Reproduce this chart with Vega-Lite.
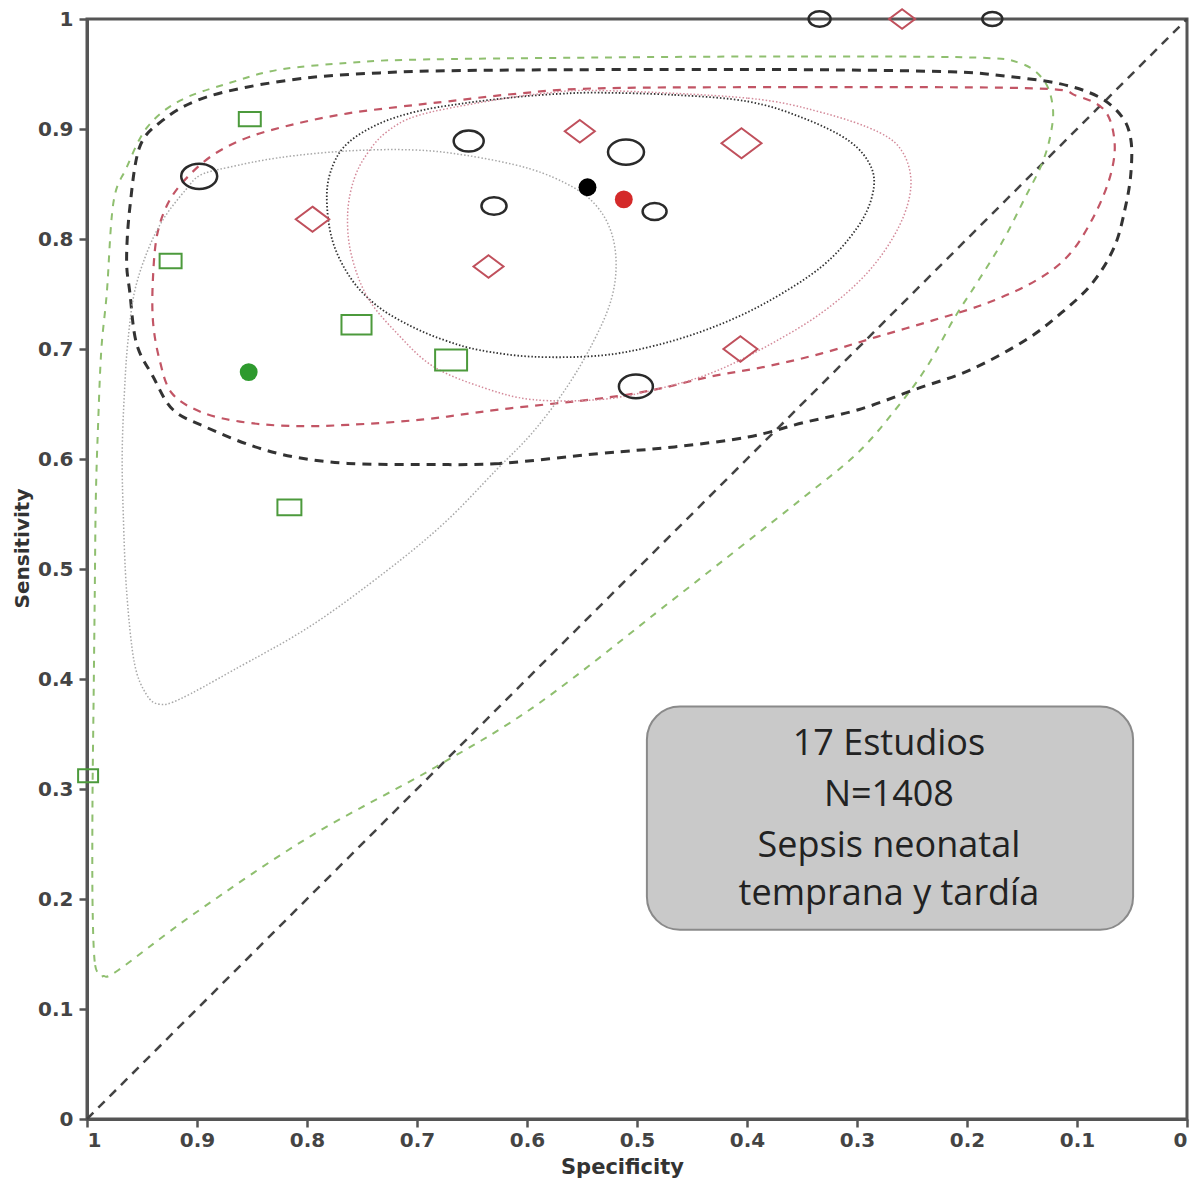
{
  "$schema": "https://vega.github.io/schema/vega-lite/v6.json",
  "width": 1100,
  "height": 1100,
  "autosize": {"type": "none"},
  "padding": {"left": 87, "top": 19, "right": 17, "bottom": 69},
  "background": "white",
  "config": {
    "view": {"stroke": "#555", "strokeWidth": 3},
    "axis": {
      "grid": false,
      "domainColor": "#555",
      "domainWidth": 3,
      "tickColor": "#555",
      "tickWidth": 2.5,
      "tickSize": 8,
      "labelFont": "DejaVu Sans",
      "labelFontWeight": "bold",
      "labelFontSize": 20,
      "labelColor": "#444",
      "titleFont": "DejaVu Sans",
      "titleFontWeight": "bold",
      "titleColor": "#333"
    }
  },
  "datasets": {
    "studies": [
      {"g": "b", "spec": 0.898, "sens": 0.857, "n": 185},
      {"g": "b", "spec": 0.653, "sens": 0.889, "n": 129},
      {"g": "b", "spec": 0.630, "sens": 0.830, "n": 90},
      {"g": "b", "spec": 0.510, "sens": 0.879, "n": 185},
      {"g": "b", "spec": 0.484, "sens": 0.825, "n": 82},
      {"g": "b", "spec": 0.501, "sens": 0.666, "n": 165},
      {"g": "b", "spec": 0.334, "sens": 1.0, "n": 69},
      {"g": "b", "spec": 0.177, "sens": 1.0, "n": 57},
      {"g": "r", "spec": 0.795, "sens": 0.818, "n": 160},
      {"g": "r", "spec": 0.552, "sens": 0.898, "n": 129},
      {"g": "r", "spec": 0.405, "sens": 0.887, "n": 229},
      {"g": "r", "spec": 0.635, "sens": 0.775, "n": 129},
      {"g": "r", "spec": 0.406, "sens": 0.700, "n": 165},
      {"g": "r", "spec": 0.259, "sens": 1.0, "n": 97},
      {"g": "g", "spec": 0.852, "sens": 0.909, "n": 69},
      {"g": "g", "spec": 0.924, "sens": 0.780, "n": 69},
      {"g": "g", "spec": 0.755, "sens": 0.722, "n": 129},
      {"g": "g", "spec": 0.669, "sens": 0.690, "n": 146},
      {"g": "g", "spec": 0.816, "sens": 0.556, "n": 82},
      {"g": "g", "spec": 0.999, "sens": 0.312, "n": 57}
    ],
    "summary": [
      {"g": "b", "spec": 0.545, "sens": 0.847},
      {"g": "r", "spec": 0.512, "sens": 0.836},
      {"g": "g", "spec": 0.853, "sens": 0.679}
    ],
    "diag": [
      {"spec": 1, "sens": 0},
      {"spec": 0, "sens": 1}
    ],
    "ticks": [
      {"v": 0.1}, {"v": 0.2}, {"v": 0.3}, {"v": 0.4}, {"v": 0.5},
      {"v": 0.6}, {"v": 0.7}, {"v": 0.8}, {"v": 0.9}
    ],
    "curves": [
      {"c": "gp", "i": 0, "spec": 0.988, "sens": 0.131},
      {"c": "gp", "i": 1, "spec": 0.993, "sens": 0.143},
      {"c": "gp", "i": 2, "spec": 0.995, "sens": 0.199},
      {"c": "gp", "i": 3, "spec": 0.995, "sens": 0.290},
      {"c": "gp", "i": 4, "spec": 0.994, "sens": 0.381},
      {"c": "gp", "i": 5, "spec": 0.993, "sens": 0.472},
      {"c": "gp", "i": 6, "spec": 0.992, "sens": 0.563},
      {"c": "gp", "i": 7, "spec": 0.990, "sens": 0.629},
      {"c": "gp", "i": 8, "spec": 0.987, "sens": 0.699},
      {"c": "gp", "i": 9, "spec": 0.982, "sens": 0.751},
      {"c": "gp", "i": 10, "spec": 0.976, "sens": 0.833},
      {"c": "gp", "i": 11, "spec": 0.964, "sens": 0.865},
      {"c": "gp", "i": 12, "spec": 0.945, "sens": 0.902},
      {"c": "gp", "i": 13, "spec": 0.915, "sens": 0.926},
      {"c": "gp", "i": 14, "spec": 0.870, "sens": 0.942},
      {"c": "gp", "i": 15, "spec": 0.825, "sens": 0.954},
      {"c": "gp", "i": 16, "spec": 0.764, "sens": 0.960},
      {"c": "gp", "i": 17, "spec": 0.704, "sens": 0.963},
      {"c": "gp", "i": 18, "spec": 0.534, "sens": 0.965},
      {"c": "gp", "i": 19, "spec": 0.352, "sens": 0.966},
      {"c": "gp", "i": 20, "spec": 0.195, "sens": 0.965},
      {"c": "gp", "i": 21, "spec": 0.152, "sens": 0.960},
      {"c": "gp", "i": 22, "spec": 0.130, "sens": 0.944},
      {"c": "gp", "i": 23, "spec": 0.122, "sens": 0.920},
      {"c": "gp", "i": 24, "spec": 0.124, "sens": 0.895},
      {"c": "gp", "i": 25, "spec": 0.132, "sens": 0.868},
      {"c": "gp", "i": 26, "spec": 0.147, "sens": 0.838},
      {"c": "gp", "i": 27, "spec": 0.167, "sens": 0.799},
      {"c": "gp", "i": 28, "spec": 0.191, "sens": 0.760},
      {"c": "gp", "i": 29, "spec": 0.211, "sens": 0.729},
      {"c": "gp", "i": 30, "spec": 0.237, "sens": 0.683},
      {"c": "gp", "i": 31, "spec": 0.265, "sens": 0.645},
      {"c": "gp", "i": 32, "spec": 0.300, "sens": 0.605},
      {"c": "gp", "i": 33, "spec": 0.350, "sens": 0.564},
      {"c": "gp", "i": 34, "spec": 0.406, "sens": 0.520},
      {"c": "gp", "i": 35, "spec": 0.470, "sens": 0.470},
      {"c": "gp", "i": 36, "spec": 0.589, "sens": 0.378},
      {"c": "gp", "i": 37, "spec": 0.683, "sens": 0.320},
      {"c": "gp", "i": 38, "spec": 0.797, "sens": 0.257},
      {"c": "gp", "i": 39, "spec": 0.902, "sens": 0.187},
      {"c": "gp", "i": 40, "spec": 0.972, "sens": 0.135},
      {"c": "gp", "i": 41, "spec": 0.985, "sens": 0.130},

      {"c": "bp", "i": 0, "spec": 0.534, "sens": 0.605},
      {"c": "bp", "i": 1, "spec": 0.625, "sens": 0.596},
      {"c": "bp", "i": 2, "spec": 0.694, "sens": 0.595},
      {"c": "bp", "i": 3, "spec": 0.763, "sens": 0.596},
      {"c": "bp", "i": 4, "spec": 0.812, "sens": 0.602},
      {"c": "bp", "i": 5, "spec": 0.850, "sens": 0.612},
      {"c": "bp", "i": 6, "spec": 0.892, "sens": 0.629},
      {"c": "bp", "i": 7, "spec": 0.922, "sens": 0.645},
      {"c": "bp", "i": 8, "spec": 0.940, "sens": 0.675},
      {"c": "bp", "i": 9, "spec": 0.955, "sens": 0.705},
      {"c": "bp", "i": 10, "spec": 0.961, "sens": 0.751},
      {"c": "bp", "i": 11, "spec": 0.964, "sens": 0.781},
      {"c": "bp", "i": 12, "spec": 0.961, "sens": 0.829},
      {"c": "bp", "i": 13, "spec": 0.952, "sens": 0.884},
      {"c": "bp", "i": 14, "spec": 0.931, "sens": 0.908},
      {"c": "bp", "i": 15, "spec": 0.900, "sens": 0.926},
      {"c": "bp", "i": 16, "spec": 0.855, "sens": 0.938},
      {"c": "bp", "i": 17, "spec": 0.795, "sens": 0.947},
      {"c": "bp", "i": 18, "spec": 0.734, "sens": 0.951},
      {"c": "bp", "i": 19, "spec": 0.673, "sens": 0.953},
      {"c": "bp", "i": 20, "spec": 0.534, "sens": 0.954},
      {"c": "bp", "i": 21, "spec": 0.352, "sens": 0.954},
      {"c": "bp", "i": 22, "spec": 0.215, "sens": 0.952},
      {"c": "bp", "i": 23, "spec": 0.165, "sens": 0.948},
      {"c": "bp", "i": 24, "spec": 0.115, "sens": 0.941},
      {"c": "bp", "i": 25, "spec": 0.080, "sens": 0.929},
      {"c": "bp", "i": 26, "spec": 0.059, "sens": 0.911},
      {"c": "bp", "i": 27, "spec": 0.051, "sens": 0.890},
      {"c": "bp", "i": 28, "spec": 0.051, "sens": 0.860},
      {"c": "bp", "i": 29, "spec": 0.056, "sens": 0.829},
      {"c": "bp", "i": 30, "spec": 0.066, "sens": 0.793},
      {"c": "bp", "i": 31, "spec": 0.086, "sens": 0.760},
      {"c": "bp", "i": 32, "spec": 0.114, "sens": 0.733},
      {"c": "bp", "i": 33, "spec": 0.147, "sens": 0.708},
      {"c": "bp", "i": 34, "spec": 0.197, "sens": 0.681},
      {"c": "bp", "i": 35, "spec": 0.248, "sens": 0.663},
      {"c": "bp", "i": 36, "spec": 0.298, "sens": 0.645},
      {"c": "bp", "i": 37, "spec": 0.349, "sens": 0.633},
      {"c": "bp", "i": 38, "spec": 0.399, "sens": 0.620},
      {"c": "bp", "i": 39, "spec": 0.466, "sens": 0.611},

      {"c": "rp", "i": 0, "spec": 0.534, "sens": 0.937},
      {"c": "rp", "i": 1, "spec": 0.352, "sens": 0.938},
      {"c": "rp", "i": 2, "spec": 0.140, "sens": 0.937},
      {"c": "rp", "i": 3, "spec": 0.100, "sens": 0.930},
      {"c": "rp", "i": 4, "spec": 0.075, "sens": 0.917},
      {"c": "rp", "i": 5, "spec": 0.066, "sens": 0.890},
      {"c": "rp", "i": 6, "spec": 0.069, "sens": 0.860},
      {"c": "rp", "i": 7, "spec": 0.083, "sens": 0.824},
      {"c": "rp", "i": 8, "spec": 0.106, "sens": 0.787},
      {"c": "rp", "i": 9, "spec": 0.136, "sens": 0.763},
      {"c": "rp", "i": 10, "spec": 0.181, "sens": 0.742},
      {"c": "rp", "i": 11, "spec": 0.231, "sens": 0.726},
      {"c": "rp", "i": 12, "spec": 0.282, "sens": 0.711},
      {"c": "rp", "i": 13, "spec": 0.332, "sens": 0.696},
      {"c": "rp", "i": 14, "spec": 0.383, "sens": 0.684},
      {"c": "rp", "i": 15, "spec": 0.433, "sens": 0.675},
      {"c": "rp", "i": 16, "spec": 0.484, "sens": 0.663},
      {"c": "rp", "i": 17, "spec": 0.534, "sens": 0.655},
      {"c": "rp", "i": 18, "spec": 0.625, "sens": 0.645},
      {"c": "rp", "i": 19, "spec": 0.694, "sens": 0.636},
      {"c": "rp", "i": 20, "spec": 0.763, "sens": 0.631},
      {"c": "rp", "i": 21, "spec": 0.815, "sens": 0.630},
      {"c": "rp", "i": 22, "spec": 0.861, "sens": 0.634},
      {"c": "rp", "i": 23, "spec": 0.897, "sens": 0.643},
      {"c": "rp", "i": 24, "spec": 0.923, "sens": 0.660},
      {"c": "rp", "i": 25, "spec": 0.934, "sens": 0.690},
      {"c": "rp", "i": 26, "spec": 0.940, "sens": 0.725},
      {"c": "rp", "i": 27, "spec": 0.940, "sens": 0.765},
      {"c": "rp", "i": 28, "spec": 0.936, "sens": 0.805},
      {"c": "rp", "i": 29, "spec": 0.925, "sens": 0.835},
      {"c": "rp", "i": 30, "spec": 0.907, "sens": 0.858},
      {"c": "rp", "i": 31, "spec": 0.883, "sens": 0.878},
      {"c": "rp", "i": 32, "spec": 0.852, "sens": 0.893},
      {"c": "rp", "i": 33, "spec": 0.809, "sens": 0.905},
      {"c": "rp", "i": 34, "spec": 0.764, "sens": 0.914},
      {"c": "rp", "i": 35, "spec": 0.718, "sens": 0.920},
      {"c": "rp", "i": 36, "spec": 0.673, "sens": 0.925},
      {"c": "rp", "i": 37, "spec": 0.610, "sens": 0.932},

      {"c": "bc", "i": 0, "spec": 0.534, "sens": 0.933},
      {"c": "bc", "i": 1, "spec": 0.466, "sens": 0.931},
      {"c": "bc", "i": 2, "spec": 0.399, "sens": 0.925},
      {"c": "bc", "i": 3, "spec": 0.349, "sens": 0.910},
      {"c": "bc", "i": 4, "spec": 0.307, "sens": 0.889},
      {"c": "bc", "i": 5, "spec": 0.287, "sens": 0.865},
      {"c": "bc", "i": 6, "spec": 0.286, "sens": 0.840},
      {"c": "bc", "i": 7, "spec": 0.300, "sens": 0.810},
      {"c": "bc", "i": 8, "spec": 0.332, "sens": 0.775},
      {"c": "bc", "i": 9, "spec": 0.383, "sens": 0.742},
      {"c": "bc", "i": 10, "spec": 0.433, "sens": 0.719},
      {"c": "bc", "i": 11, "spec": 0.484, "sens": 0.703},
      {"c": "bc", "i": 12, "spec": 0.534, "sens": 0.694},
      {"c": "bc", "i": 13, "spec": 0.595, "sens": 0.693},
      {"c": "bc", "i": 14, "spec": 0.643, "sens": 0.699},
      {"c": "bc", "i": 15, "spec": 0.675, "sens": 0.708},
      {"c": "bc", "i": 16, "spec": 0.706, "sens": 0.721},
      {"c": "bc", "i": 17, "spec": 0.736, "sens": 0.739},
      {"c": "bc", "i": 18, "spec": 0.760, "sens": 0.764},
      {"c": "bc", "i": 19, "spec": 0.777, "sens": 0.799},
      {"c": "bc", "i": 20, "spec": 0.782, "sens": 0.840},
      {"c": "bc", "i": 21, "spec": 0.776, "sens": 0.868},
      {"c": "bc", "i": 22, "spec": 0.762, "sens": 0.888},
      {"c": "bc", "i": 23, "spec": 0.734, "sens": 0.905},
      {"c": "bc", "i": 24, "spec": 0.700, "sens": 0.916},
      {"c": "bc", "i": 25, "spec": 0.660, "sens": 0.923},
      {"c": "bc", "i": 26, "spec": 0.610, "sens": 0.929},
      {"c": "bc", "i": 27, "spec": 0.570, "sens": 0.932},

      {"c": "rc", "i": 0, "spec": 0.534, "sens": 0.935},
      {"c": "rc", "i": 1, "spec": 0.399, "sens": 0.928},
      {"c": "rc", "i": 2, "spec": 0.332, "sens": 0.915},
      {"c": "rc", "i": 3, "spec": 0.280, "sens": 0.897},
      {"c": "rc", "i": 4, "spec": 0.258, "sens": 0.878},
      {"c": "rc", "i": 5, "spec": 0.251, "sens": 0.848},
      {"c": "rc", "i": 6, "spec": 0.262, "sens": 0.811},
      {"c": "rc", "i": 7, "spec": 0.290, "sens": 0.770},
      {"c": "rc", "i": 8, "spec": 0.332, "sens": 0.733},
      {"c": "rc", "i": 9, "spec": 0.383, "sens": 0.702},
      {"c": "rc", "i": 10, "spec": 0.433, "sens": 0.678},
      {"c": "rc", "i": 11, "spec": 0.484, "sens": 0.663},
      {"c": "rc", "i": 12, "spec": 0.534, "sens": 0.654},
      {"c": "rc", "i": 13, "spec": 0.595, "sens": 0.654},
      {"c": "rc", "i": 14, "spec": 0.640, "sens": 0.665},
      {"c": "rc", "i": 15, "spec": 0.685, "sens": 0.684},
      {"c": "rc", "i": 16, "spec": 0.717, "sens": 0.713},
      {"c": "rc", "i": 17, "spec": 0.745, "sens": 0.747},
      {"c": "rc", "i": 18, "spec": 0.760, "sens": 0.787},
      {"c": "rc", "i": 19, "spec": 0.763, "sens": 0.824},
      {"c": "rc", "i": 20, "spec": 0.757, "sens": 0.855},
      {"c": "rc", "i": 21, "spec": 0.745, "sens": 0.878},
      {"c": "rc", "i": 22, "spec": 0.728, "sens": 0.897},
      {"c": "rc", "i": 23, "spec": 0.700, "sens": 0.912},
      {"c": "rc", "i": 24, "spec": 0.643, "sens": 0.924},
      {"c": "rc", "i": 25, "spec": 0.588, "sens": 0.932},

      {"c": "gc", "i": 0, "spec": 0.897, "sens": 0.858},
      {"c": "gc", "i": 1, "spec": 0.872, "sens": 0.865},
      {"c": "gc", "i": 2, "spec": 0.825, "sens": 0.874},
      {"c": "gc", "i": 3, "spec": 0.764, "sens": 0.880},
      {"c": "gc", "i": 4, "spec": 0.704, "sens": 0.881},
      {"c": "gc", "i": 5, "spec": 0.655, "sens": 0.876},
      {"c": "gc", "i": 6, "spec": 0.598, "sens": 0.864},
      {"c": "gc", "i": 7, "spec": 0.558, "sens": 0.847},
      {"c": "gc", "i": 8, "spec": 0.536, "sens": 0.829},
      {"c": "gc", "i": 9, "spec": 0.523, "sens": 0.805},
      {"c": "gc", "i": 10, "spec": 0.519, "sens": 0.775},
      {"c": "gc", "i": 11, "spec": 0.524, "sens": 0.743},
      {"c": "gc", "i": 12, "spec": 0.540, "sens": 0.706},
      {"c": "gc", "i": 13, "spec": 0.564, "sens": 0.665},
      {"c": "gc", "i": 14, "spec": 0.595, "sens": 0.624},
      {"c": "gc", "i": 15, "spec": 0.628, "sens": 0.590},
      {"c": "gc", "i": 16, "spec": 0.675, "sens": 0.542},
      {"c": "gc", "i": 17, "spec": 0.728, "sens": 0.498},
      {"c": "gc", "i": 18, "spec": 0.797, "sens": 0.448},
      {"c": "gc", "i": 19, "spec": 0.867, "sens": 0.408},
      {"c": "gc", "i": 20, "spec": 0.915, "sens": 0.382},
      {"c": "gc", "i": 21, "spec": 0.934, "sens": 0.377},
      {"c": "gc", "i": 22, "spec": 0.946, "sens": 0.386},
      {"c": "gc", "i": 23, "spec": 0.957, "sens": 0.415},
      {"c": "gc", "i": 24, "spec": 0.964, "sens": 0.480},
      {"c": "gc", "i": 25, "spec": 0.967, "sens": 0.549},
      {"c": "gc", "i": 26, "spec": 0.968, "sens": 0.605},
      {"c": "gc", "i": 27, "spec": 0.966, "sens": 0.660},
      {"c": "gc", "i": 28, "spec": 0.963, "sens": 0.705},
      {"c": "gc", "i": 29, "spec": 0.957, "sens": 0.751},
      {"c": "gc", "i": 30, "spec": 0.945, "sens": 0.789},
      {"c": "gc", "i": 31, "spec": 0.930, "sens": 0.819},
      {"c": "gc", "i": 32, "spec": 0.910, "sens": 0.845}
    ],
    "box": [
      {"s1": 0.491, "s2": 0.049, "t1": 0.375, "t2": 0.172}
    ],
    "note": [
      {"line": "17 Estudios", "spec": 0.271, "sens": 0.331},
      {"line": "N=1408", "spec": 0.271, "sens": 0.285},
      {"line": "Sepsis neonatal", "spec": 0.271, "sens": 0.238},
      {"line": "temprana y tardía", "spec": 0.271, "sens": 0.195}
    ]
  },
  "encoding": {
    "x": {
      "field": "spec",
      "type": "quantitative",
      "scale": {"domain": [0, 1], "reverse": true, "nice": false, "zero": false},
      "axis": {
        "title": "Specificity",
        "values": [0, 0.1, 0.2, 0.3, 0.4, 0.5, 0.6, 0.7, 0.8, 0.9, 1],
        "format": "~g",
        "labelPadding": 3,
        "titleFontSize": 21,
        "titleX": 535,
        "titleY": 48,
        "titleBaseline": "middle"
      }
    },
    "y": {
      "field": "sens",
      "type": "quantitative",
      "scale": {"domain": [0, 1], "nice": false, "zero": false},
      "axis": {
        "title": "Sensitivity",
        "values": [0, 0.1, 0.2, 0.3, 0.4, 0.5, 0.6, 0.7, 0.8, 0.9, 1],
        "format": "~g",
        "labelPadding": 6,
        "titleFontSize": 20,
        "titleX": -65,
        "titleY": 529,
        "titleAngle": 270,
        "titleAlign": "center",
        "titleBaseline": "middle"
      }
    }
  },
  "layer": [
    {
      "data": {"name": "ticks"},
      "mark": {"type": "rule", "stroke": "#555", "strokeWidth": 2.5},
      "encoding": {
        "x": {"field": "v", "type": "quantitative"},
        "y": {"datum": 0},
        "y2": {"datum": 0.008}
      }
    },
    {
      "data": {"name": "ticks"},
      "mark": {"type": "rule", "stroke": "#555", "strokeWidth": 2.5},
      "encoding": {
        "y": {"field": "v", "type": "quantitative"},
        "x": {"datum": 1},
        "x2": {"datum": 0.992}
      }
    },
    {
      "data": {"name": "diag"},
      "mark": {"type": "line", "stroke": "#444", "strokeWidth": 2.5, "strokeDash": [9, 7]},
      "encoding": {}
    },
    {
      "data": {"name": "curves"},
      "transform": [{"filter": "datum.c === 'gp'"}],
      "mark": {"type": "line", "interpolate": "cardinal-closed", "stroke": "#8fbf6f", "strokeWidth": 2, "strokeDash": [7, 7]},
      "encoding": {"order": {"field": "i", "type": "quantitative"}}
    },
    {
      "data": {"name": "curves"},
      "transform": [{"filter": "datum.c === 'bp'"}],
      "mark": {"type": "line", "interpolate": "cardinal-closed", "stroke": "#333", "strokeWidth": 3, "strokeDash": [9, 7]},
      "encoding": {"order": {"field": "i", "type": "quantitative"}}
    },
    {
      "data": {"name": "curves"},
      "transform": [{"filter": "datum.c === 'rp'"}],
      "mark": {"type": "line", "interpolate": "cardinal-closed", "stroke": "#c25565", "strokeWidth": 2.2, "strokeDash": [8, 7]},
      "encoding": {"order": {"field": "i", "type": "quantitative"}}
    },
    {
      "data": {"name": "curves"},
      "transform": [{"filter": "datum.c === 'bc'"}],
      "mark": {"type": "line", "interpolate": "cardinal-closed", "stroke": "#333", "strokeWidth": 1.8, "strokeDash": [1.5, 2]},
      "encoding": {"order": {"field": "i", "type": "quantitative"}}
    },
    {
      "data": {"name": "curves"},
      "transform": [{"filter": "datum.c === 'rc'"}],
      "mark": {"type": "line", "interpolate": "cardinal-closed", "stroke": "#d48a9a", "strokeWidth": 1.5, "strokeDash": [1.5, 2]},
      "encoding": {"order": {"field": "i", "type": "quantitative"}}
    },
    {
      "data": {"name": "curves"},
      "transform": [{"filter": "datum.c === 'gc'"}],
      "mark": {"type": "line", "interpolate": "cardinal-closed", "stroke": "#a8a8a8", "strokeWidth": 1.5, "strokeDash": [1.5, 2]},
      "encoding": {"order": {"field": "i", "type": "quantitative"}}
    },
    {
      "data": {"name": "studies"},
      "transform": [{"filter": "datum.g === 'b'"}],
      "mark": {
        "type": "point",
        "shape": "M-1,0C-1,-0.387,-0.552,-0.7,0,-0.7C0.552,-0.7,1,-0.387,1,0C1,0.387,0.552,0.7,0,0.7C-0.552,0.7,-1,0.387,-1,0Z",
        "filled": false,
        "stroke": "#2a2a2a",
        "strokeWidth": 2.5,
        "opacity": 1
      },
      "encoding": {
        "size": {"field": "n", "type": "quantitative", "scale": {"type": "linear", "domain": [0, 300], "range": [0, 2100]}, "legend": null}
      }
    },
    {
      "data": {"name": "studies"},
      "transform": [{"filter": "datum.g === 'r'"}],
      "mark": {
        "type": "point",
        "shape": "M0,-0.75L1,0L0,0.75L-1,0Z",
        "filled": false,
        "stroke": "#c0505c",
        "strokeWidth": 2,
        "opacity": 1
      },
      "encoding": {
        "size": {"field": "n", "type": "quantitative", "scale": {"type": "linear", "domain": [0, 300], "range": [0, 2100]}, "legend": null}
      }
    },
    {
      "data": {"name": "studies"},
      "transform": [{"filter": "datum.g === 'g'"}],
      "mark": {
        "type": "point",
        "shape": "M-1,-0.65L1,-0.65L1,0.65L-1,0.65Z",
        "filled": false,
        "stroke": "#4c9a3c",
        "strokeWidth": 2,
        "opacity": 1
      },
      "encoding": {
        "size": {"field": "n", "type": "quantitative", "scale": {"type": "linear", "domain": [0, 300], "range": [0, 2100]}, "legend": null}
      }
    },
    {
      "data": {"name": "summary"},
      "mark": {"type": "circle", "size": 320, "opacity": 1},
      "encoding": {
        "color": {"field": "g", "type": "nominal", "scale": {"domain": ["b", "r", "g"], "range": ["#000000", "#d42a2a", "#2e9a2e"]}, "legend": null}
      }
    },
    {
      "data": {"name": "box"},
      "mark": {"type": "rect", "fill": "#c9c9c9", "stroke": "#8a8a8a", "strokeWidth": 2, "cornerRadius": 33},
      "encoding": {
        "x": {"field": "s1", "type": "quantitative"},
        "x2": {"field": "s2"},
        "y": {"field": "t1", "type": "quantitative"},
        "y2": {"field": "t2"}
      }
    },
    {
      "data": {"name": "note"},
      "mark": {"type": "text", "font": "Open Sans", "fontSize": 36, "color": "#222", "align": "center", "baseline": "alphabetic"},
      "encoding": {
        "text": {"field": "line", "type": "nominal"}
      }
    }
  ]
}
